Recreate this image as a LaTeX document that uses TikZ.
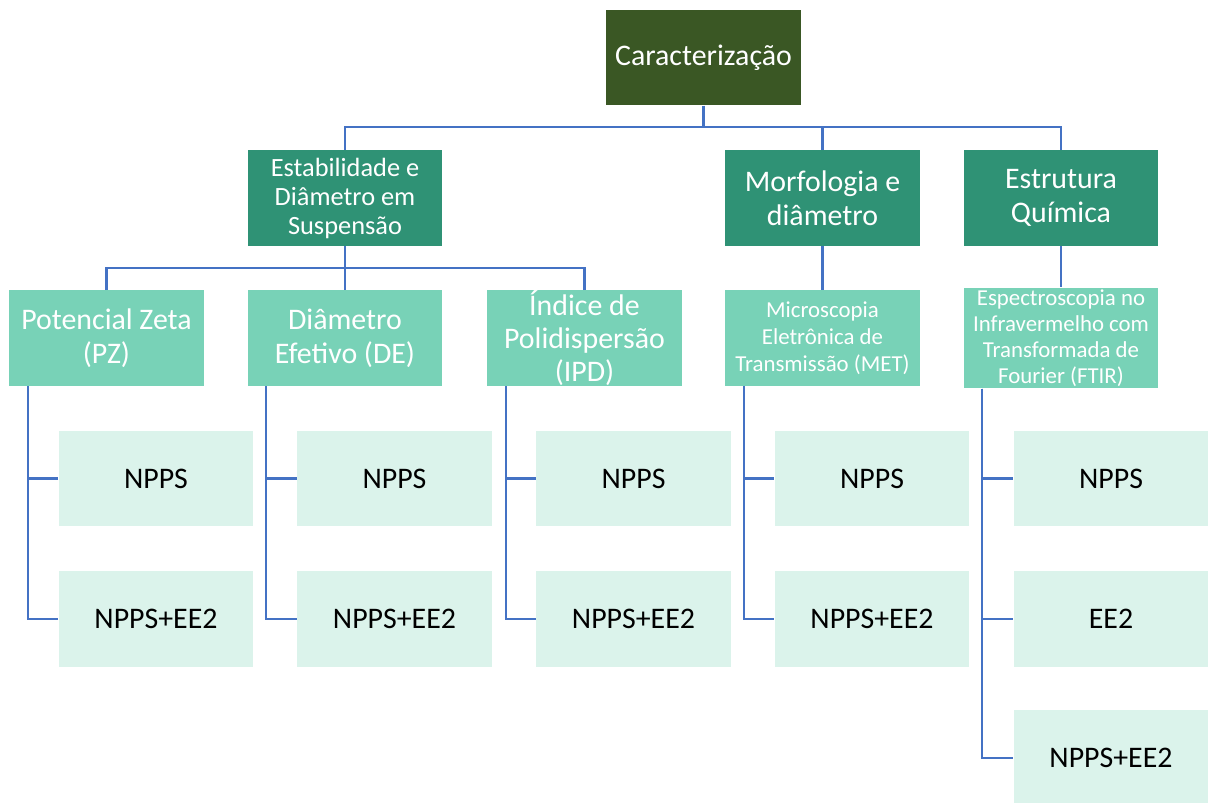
\documentclass[tikz,border=0pt]{standalone}
\usepackage{fontspec}
\setmainfont{Carlito}

\definecolor{rootgreen}{HTML}{3A5724}
\definecolor{midteal}{HTML}{2F9275}
\definecolor{mint}{HTML}{78D2B7}
\definecolor{palemint}{HTML}{DBF3EB}
\definecolor{linkblue}{HTML}{4472C4}

\tikzset{
  box/.style={minimum width=3.9cm, minimum height=1.92cm, inner sep=1pt, align=center},
  root/.style={box, fill=rootgreen, text=white, font=\fontsize{17}{19.5}\selectfont},
  group/.style={box, fill=midteal, text=white, font=\fontsize{17}{19.5}\selectfont},
  method/.style={box, fill=mint, text=white, font=\fontsize{17}{19.5}\selectfont},
  sample/.style={box, fill=palemint, text=black, font=\fontsize{17}{19.5}\selectfont},
  link/.style={draw=linkblue, line width=1.3pt},
}

\begin{document}
\begin{tikzpicture}[x=0.02cm, y=-0.02cm]

  \useasboundingbox (0,0) rectangle (1208,803);

  \node[root] (top) at (703.5,57.5) {Caracterização};

  \node[group, font=\fontsize{15}{16.5}\selectfont] (g1) at (345,198) {Estabilidade e\\Diâmetro em\\Suspensão};
  \node[group] (g2) at (822.5,198) {Morfologia e\\diâmetro};
  \node[group] (g3) at (1061,198) {Estrutura\\Química};

  \node[method] (m1) at (106.5,338) {Potencial Zeta\\(PZ)};
  \node[method] (m2) at (345,338) {Diâmetro\\Efetivo (DE)};
  \node[method, inner ysep=-0.12cm, font=\fontsize{17}{18.7}\selectfont] (m3) at (584.5,338) {Índice de\\Polidispersão\\(IPD)};
  \node[method, font=\fontsize{13}{15.3}\selectfont] (m4) at (822.5,338) {Microscopia\\Eletrônica de\\Transmissão (MET)};
  \node[method, font=\fontsize{13}{14.8}\selectfont] (m5) at (1061,338) {Espectroscopia no\\Infravermelho com\\Transformada de\\Fourier (FTIR)};

  \node[sample] (a1) at (156,478.5) {NPPS};
  \node[sample] (a2) at (156,619) {NPPS+EE2};
  \node[sample] (b1) at (394.5,478.5) {NPPS};
  \node[sample] (b2) at (394.5,619) {NPPS+EE2};
  \node[sample] (c1) at (633.5,478.5) {NPPS};
  \node[sample] (c2) at (633.5,619) {NPPS+EE2};
  \node[sample] (d1) at (872,478.5) {NPPS};
  \node[sample] (d2) at (872,619) {NPPS+EE2};
  \node[sample] (e1) at (1111,478.5) {NPPS};
  \node[sample] (e2) at (1111,619) {EE2};
  \node[sample] (e3) at (1111,758) {NPPS+EE2};

  % top level
  \draw[link] (top.south) -- ++(0,21) -| (g1.north);
  \draw[link] (top.south) -- ++(0,21) -| (g2.north);
  \draw[link] (top.south) -- ++(0,21) -| (g3.north);

  % methods
  \draw[link] (g1.south) -- ++(0,22) -| (m1.north);
  \draw[link] (g1.south) -- (m2.north);
  \draw[link] (g1.south) -- ++(0,22) -| (m3.north);
  \draw[link] (g2.south) -- (m4.north);
  \draw[link] (g3.south) -- (m5.north);

  % samples
  \draw[link] ([xshift=0.38cm]m1.south west) |- (a1.west);
  \draw[link] ([xshift=0.38cm]m1.south west) |- (a2.west);
  \draw[link] ([xshift=0.38cm]m2.south west) |- (b1.west);
  \draw[link] ([xshift=0.38cm]m2.south west) |- (b2.west);
  \draw[link] ([xshift=0.38cm]m3.south west) |- (c1.west);
  \draw[link] ([xshift=0.38cm]m3.south west) |- (c2.west);
  \draw[link] ([xshift=0.38cm]m4.south west) |- (d1.west);
  \draw[link] ([xshift=0.38cm]m4.south west) |- (d2.west);
  \draw[link] ([xshift=0.38cm]m5.south west) |- (e1.west);
  \draw[link] ([xshift=0.38cm]m5.south west) |- (e2.west);
  \draw[link] ([xshift=0.38cm]m5.south west) |- (e3.west);

\end{tikzpicture}
\end{document}
